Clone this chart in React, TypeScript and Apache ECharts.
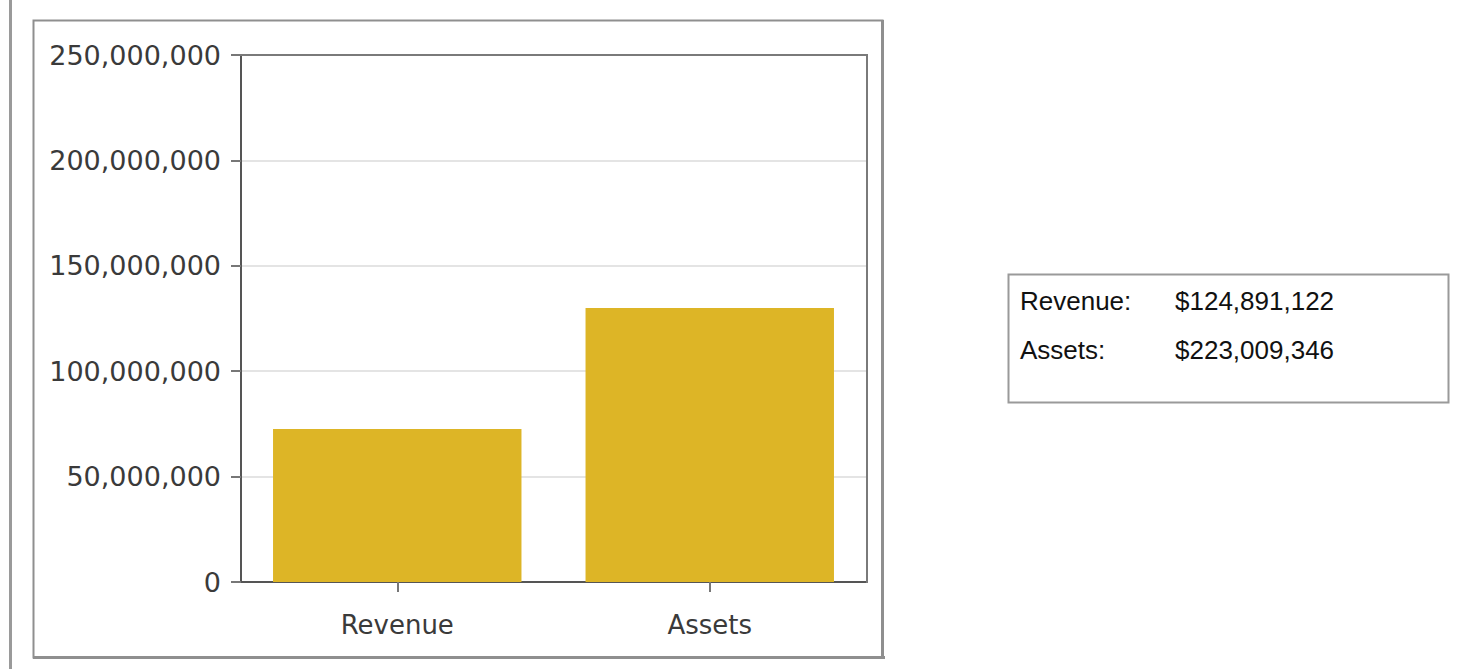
import React, { useEffect, useRef } from "react";
import * as echarts from "echarts";

const categories = ["Revenue", "Assets"];
const barValues = [72600000, 130000000];
const yTicks = { min: 0, max: 250000000, interval: 50000000 };
const summaryLabels = ["Revenue:", "Assets:"];
const summaryValues = [124891122, 223009346];

const fmt = (v: number) => v.toLocaleString("en-US");

export default function App() {
  const ref = useRef<HTMLDivElement>(null);
  useEffect(() => {
    if (!ref.current) return;
    const chart = echarts.init(ref.current, undefined, { renderer: "svg" });
    const summaryTexts: any[] = [];
    summaryLabels.forEach((lab, i) => {
      summaryTexts.push({
        type: "text",
        left: 1020,
        top: 288 + i * 49,
        style: { text: lab, font: "26px 'Liberation Sans', Arial, sans-serif", fill: "#111" },
      });
      summaryTexts.push({
        type: "text",
        left: 1175,
        top: 288 + i * 49,
        style: { text: "$" + fmt(summaryValues[i]), font: "26px 'Liberation Sans', Arial, sans-serif", fill: "#111" },
      });
    });
    chart.setOption({
      animation: false,
      backgroundColor: "#fff",
      grid: {
        left: 241,
        top: 55,
        right: 1459 - 866,
        bottom: 669 - 582,
        show: false,
      },
      xAxis: {
        type: "category",
        data: categories,
        axisLine: { show: true, lineStyle: { color: "#555", width: 2 } },
        axisTick: { show: true, alignWithLabel: true, length: 10, lineStyle: { color: "#777", width: 2 } },
        axisLabel: { color: "#3a3a3a", fontFamily: "'DejaVu Sans', sans-serif", fontSize: 26, margin: 30 },
      },
      yAxis: {
        type: "value",
        min: yTicks.min,
        max: yTicks.max,
        interval: yTicks.interval,
        axisLine: { show: true, lineStyle: { color: "#555", width: 2 } },
        axisTick: { show: true, length: 10, lineStyle: { color: "#777", width: 2 } },
        splitLine: { show: true, lineStyle: { color: "#e4e4e4", width: 2 } },
        axisLabel: {
          color: "#3a3a3a",
          fontFamily: "'DejaVu Sans', sans-serif",
          fontSize: 27,
          margin: 20,
          formatter: (v: number) => fmt(v),
        },
      },
      series: [
        {
          type: "bar",
          data: barValues,
          barCategoryGap: "20.5%",
          itemStyle: { color: "#DDB526" },
          z: 1,
        },
      ],
      graphic: [
        { type: "rect", shape: { x: 9, y: 0, width: 3, height: 669 }, style: { fill: "#9a9a9a" }, silent: true },
        {
          type: "rect",
          shape: { x: 33.5, y: 20.5, width: 849, height: 637 },
          style: { fill: "none", stroke: "#8f8f8f", lineWidth: 2 },
          silent: true,
        },
        { type: "rect", shape: { x: 33, y: 656, width: 852, height: 3 }, style: { fill: "#8f8f8f" }, silent: true },
        { type: "rect", shape: { x: 881, y: 20, width: 3, height: 639 }, style: { fill: "#8f8f8f" }, silent: true },
        { type: "rect", z: 100, shape: { x: 240, y: 54, width: 628, height: 2 }, style: { fill: "#7a7a7a" }, silent: true },
        { type: "rect", z: 100, shape: { x: 866, y: 54, width: 2, height: 529 }, style: { fill: "#7a7a7a" }, silent: true },
        {
          type: "rect",
          shape: { x: 1008.5, y: 274.5, width: 440, height: 128 },
          style: { fill: "#fff", stroke: "#9a9a9a", lineWidth: 2 },
          silent: true,
        },
        ...summaryTexts,
      ],
    });
    return () => chart.dispose();
  }, []);
  return (
    <div
      ref={ref}
      style={{ position: "absolute", left: 0, top: 0, width: 1459, height: 669 }}
    />
  );
}
